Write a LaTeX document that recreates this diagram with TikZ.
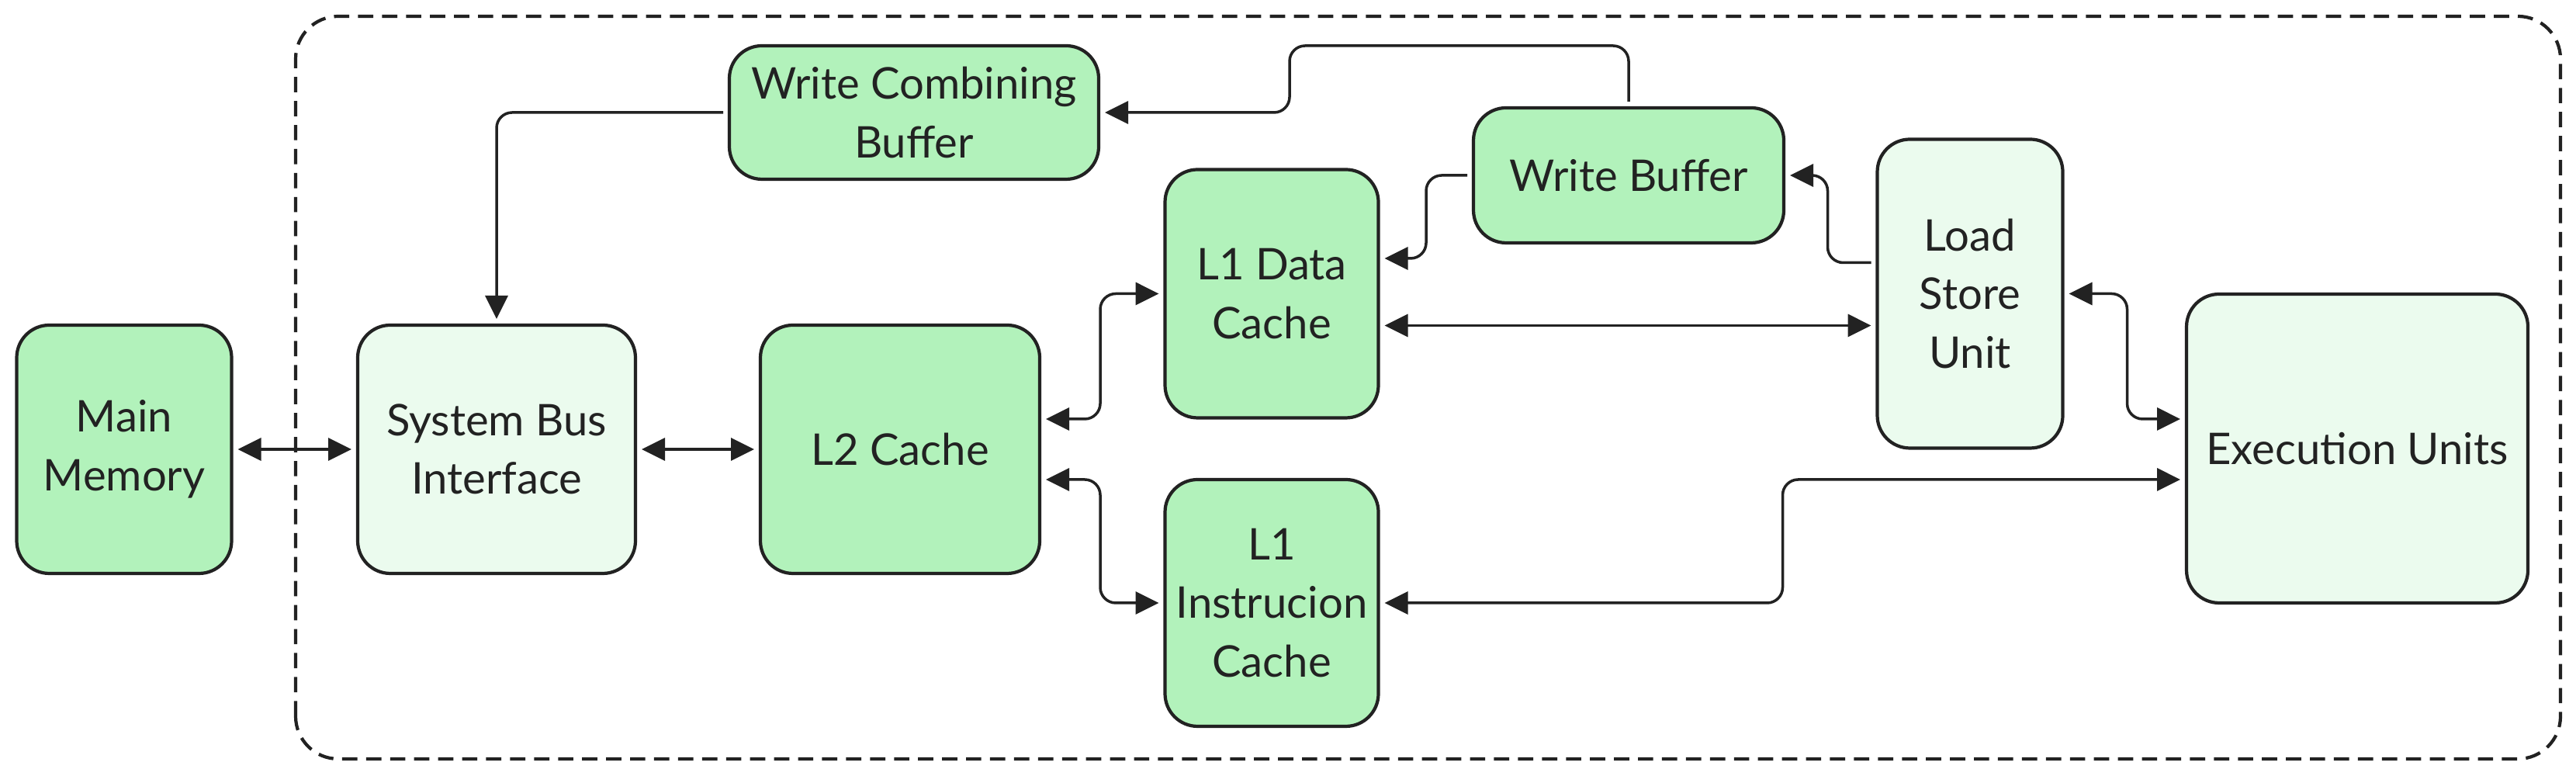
\documentclass[tikz,border=0pt]{standalone}
\usepackage{fontspec}
\setmainfont{Lato}
\usetikzlibrary{arrows.meta}
\definecolor{boxdark}{HTML}{B2F2BB}
\definecolor{boxlight}{HTML}{EBFBEE}
\definecolor{ink}{HTML}{222222}
\begin{document}
\begin{tikzpicture}[
	box/.style={draw=ink, line width=1.2pt, rounded corners=0.42cm, align=center, outer sep=0.8mm, inner sep=0pt, text=ink, font=\fontsize{16}{21.5}\selectfont},
	dark/.style={box, fill=boxdark},
	light/.style={box, fill=boxlight},
	link/.style={draw=ink, line width=1pt, rounded corners=0.2cm},
	onearrow/.style={link, -{Triangle[length=3mm,width=2.9mm]}},
	twoarrow/.style={link, {Triangle[length=3mm,width=2.9mm]}-{Triangle[length=3mm,width=2.9mm]}}
	]
	\useasboundingbox (0,0) rectangle (33.2,10);
	% boundary of the processor
	\draw[ink, line width=1.2pt, dash pattern=on 5.6pt off 3.2pt, rounded corners=0.55cm] (3.81,0.22) rectangle (33.00,9.79);
	\node[dark, minimum width=2.77cm, minimum height=3.2cm] at (1.60,4.21) (mem) {Main\\Memory};
	\node[light, minimum width=3.58cm, minimum height=3.2cm] at (6.40,4.21) (sbi) {System Bus\\Interface};
	\node[dark, minimum width=3.6cm, minimum height=3.2cm] at (11.60,4.21) (ltwo) {L2 Cache};
	\node[dark, minimum width=4.76cm, minimum height=1.72cm] at (11.78,8.55) (wcb) {Write Combining\\Buffer};
	\node[dark, minimum width=2.75cm, minimum height=3.2cm] at (16.39,6.215) (lod) {L1 Data\\Cache};
	\node[dark, minimum width=2.75cm, minimum height=3.18cm] at (16.39,2.23) (loi) {L1\\Instrucion\\Cache};
	\node[dark, minimum width=4.0cm, minimum height=1.74cm] at (20.99,7.74) (wb) {Write Buffer};
	\node[light, minimum width=2.39cm, minimum height=3.98cm] at (25.39,6.215) (lsu) {Load\\Store\\Unit};
	\node[light, minimum width=4.4cm, minimum height=3.98cm] at (30.38,4.22) (eu) {Execution Units};
	% connectors
	\draw[twoarrow] (mem) -- (sbi);
	\draw[twoarrow] (sbi) -- (ltwo);
	\draw[onearrow] (wcb.west) -| (sbi.north);
	\draw[onearrow] (wb.north) |- (16.62,9.41) |- (wcb.east);
	\draw[onearrow] (wb.west) -- ++(-0.53,0) |- ([yshift=4.55mm]lod.east);
	\draw[onearrow] ([yshift=4mm]lsu.west) -- ++(-0.56,0) |- (wb.east);
	\draw[twoarrow] ([yshift=-4.1mm]lod.east) -- ([yshift=-4.1mm]lsu.west);
	\draw[twoarrow] (lsu.east) -- ++(0.75,0) |- ([yshift=3.8mm]eu.west);
	\draw[twoarrow] ([yshift=3.9mm]ltwo.east) -- ++(0.7,0) |- (lod.west);
	\draw[twoarrow] ([yshift=-3.9mm]ltwo.east) -- ++(0.7,0) |- (loi.west);
	\draw[twoarrow] (loi.east) -- ++(5.13,0) |- ([yshift=-4mm]eu.west);
\end{tikzpicture}
\end{document}
